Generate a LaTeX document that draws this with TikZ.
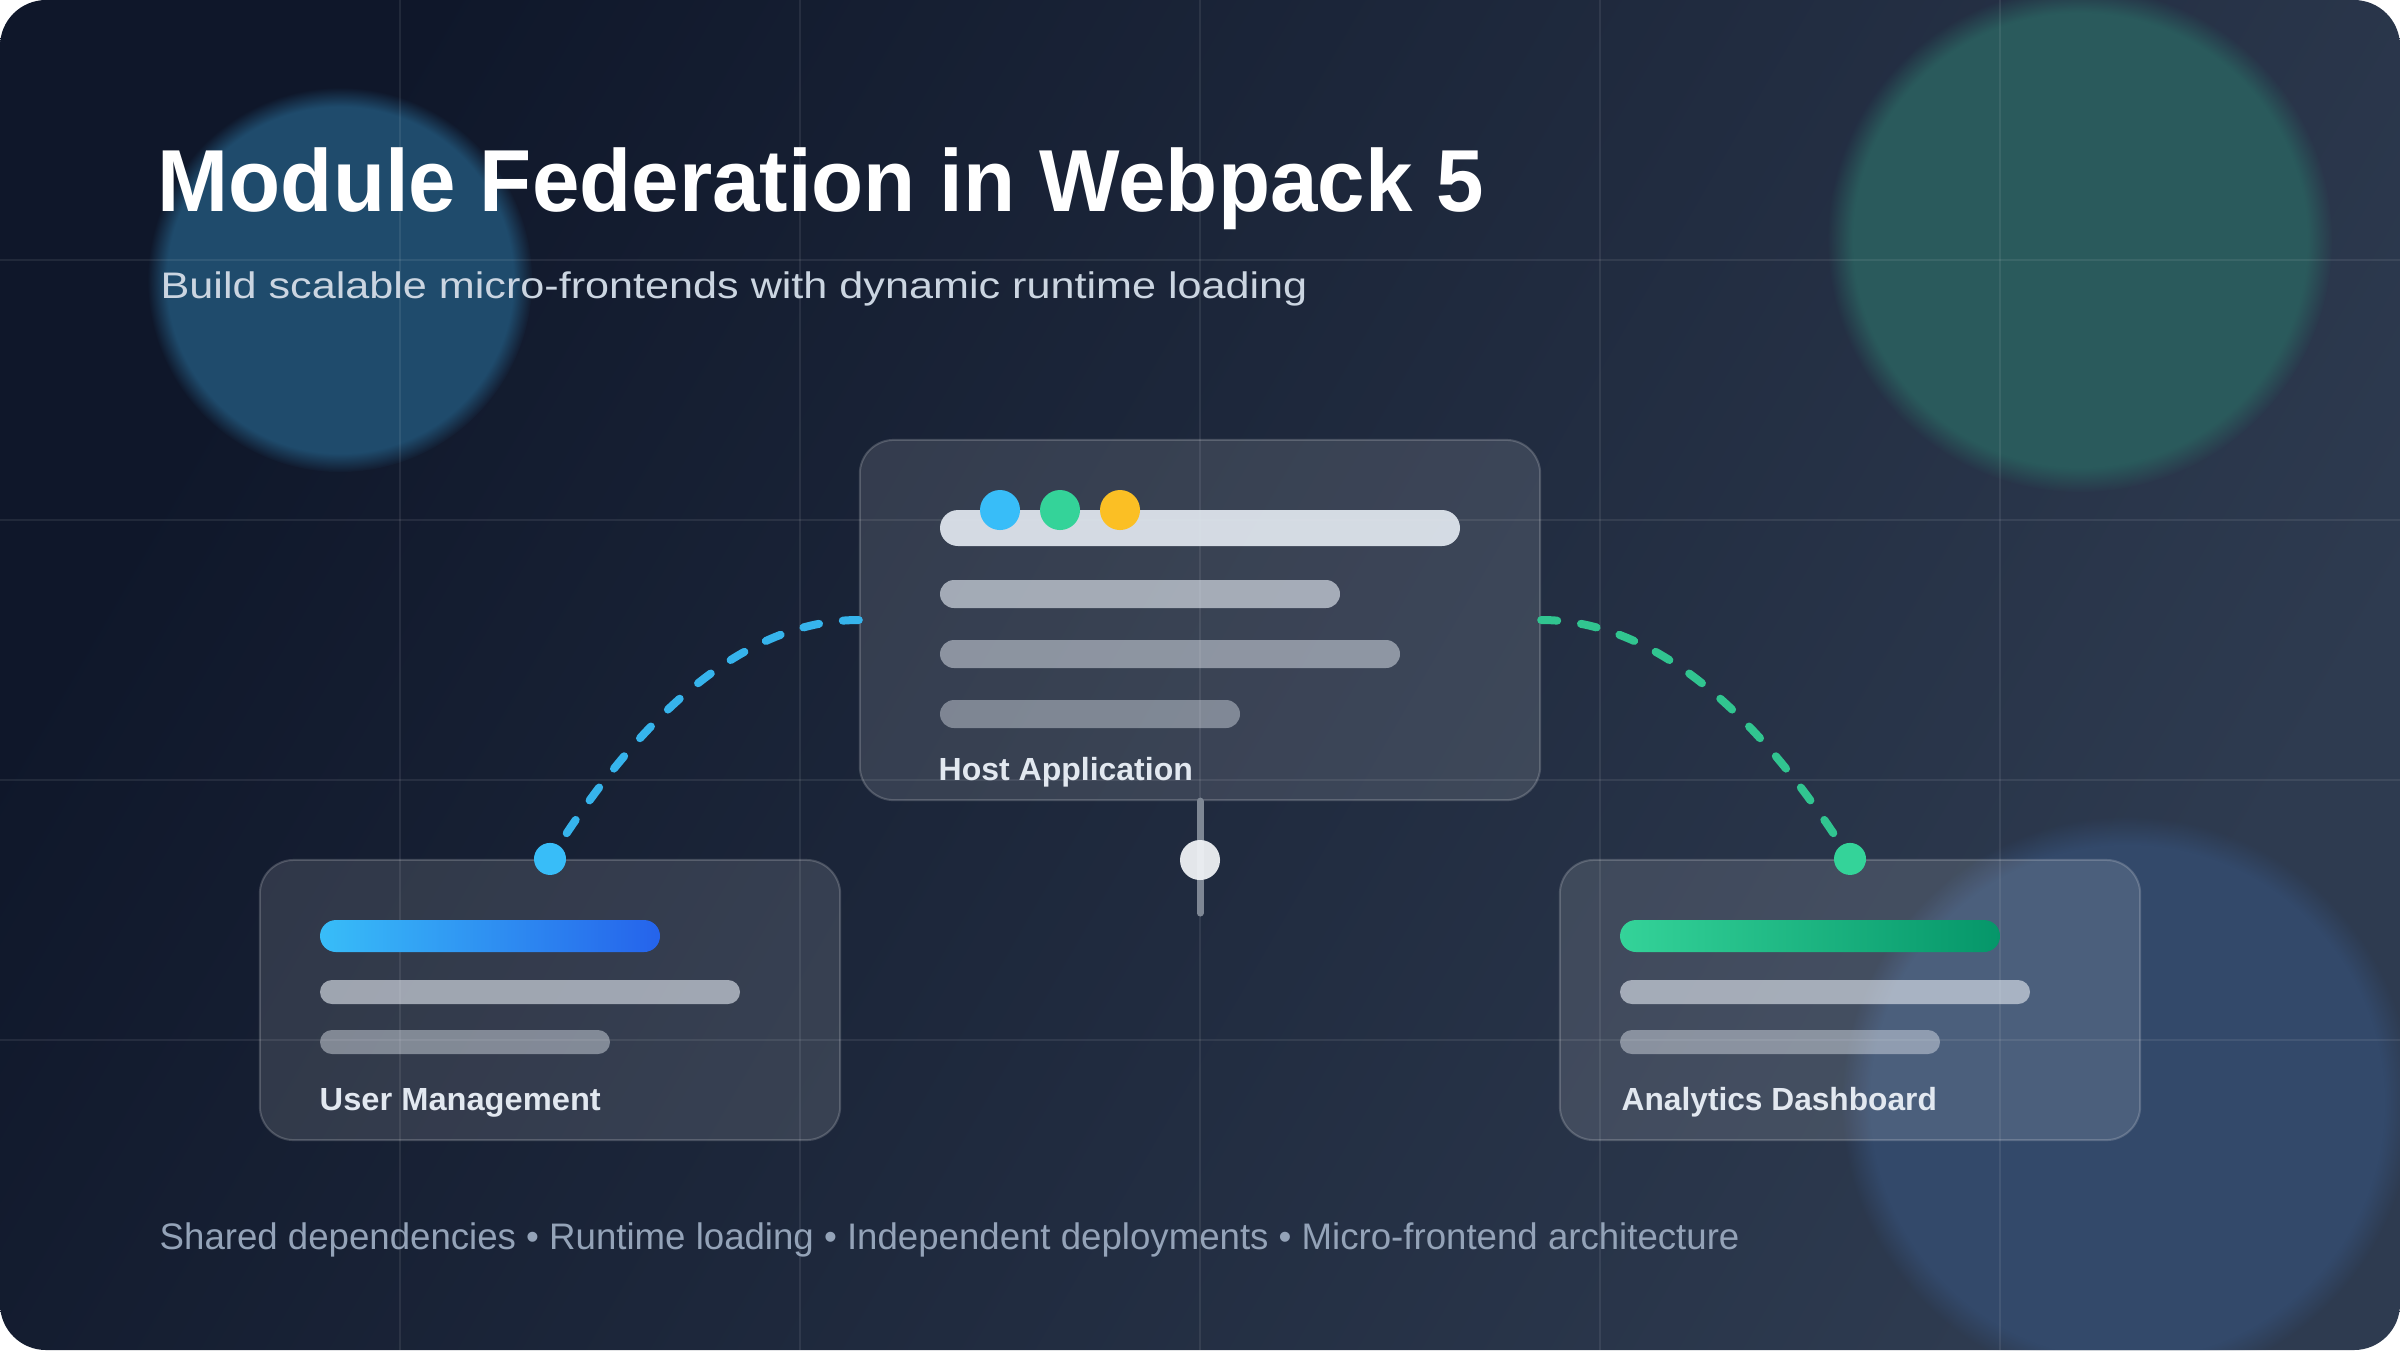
\documentclass[tikz,border=0pt]{standalone}
\usepackage{fontspec}
\setmainfont{Liberation Sans}
\usepackage{graphicx}
\usetikzlibrary{fadings}
\definecolor{bgA}{HTML}{0F172A}
\definecolor{bgB}{HTML}{2E3B50}
\definecolor{circBlue}{HTML}{1F4B6C}
\definecolor{circGreen}{HTML}{2A5A5C}
\definecolor{circSlate}{HTML}{33496A}
\definecolor{barLight}{HTML}{E2E8F0}
\definecolor{skyA}{HTML}{38BDF8}
\definecolor{skyB}{HTML}{2563EB}
\definecolor{emA}{HTML}{34D399}
\definecolor{emB}{HTML}{059669}
\definecolor{amberDot}{HTML}{FBBF24}
\definecolor{dashBlue}{HTML}{36B4EC}
\definecolor{dashGreen}{HTML}{31C590}
\definecolor{subText}{HTML}{CBD5E1}
\definecolor{footText}{HTML}{94A3B8}
\definecolor{labelText}{HTML}{E2E8F0}
\definecolor{stemGray}{HTML}{7E8794}
\definecolor{knobWhite}{HTML}{EEF1F4}
\begin{document}
\begin{tikzpicture}[x=0.01cm,y=-0.01cm,
  card/.style={draw=white, draw opacity=0.18, fill=white, fill opacity=0.12,
    line width=0.02cm, rounded corners=0.34cm, inner sep=0pt, rectangle},
  gridline/.style={draw=white, draw opacity=0.08, line width=0.02cm},
  dashconn/.style={line width=0.08cm, line cap=round, dash pattern=on 0.16cm off 0.24cm},
  dotnode/.style={circle, inner sep=0pt, minimum size=0.32cm},
  txt/.style={anchor=base west, inner sep=0pt}
]
\useasboundingbox (0,0) rectangle (2400,1350);
\fill[white] (0,0) rectangle (2400,1350);
\shade[top color=bgA, bottom color=bgB, shading angle=60, rounded corners=0.46cm] (0,0) rectangle (2400,1350);

\begin{scope}
  \clip[rounded corners=0.46cm] (0,0) rectangle (2400,1350);
  % glowing circles
  \fill[circBlue, path fading=circle with fuzzy edge 10 percent] (340,280) circle (1.92cm);
  \fill[circGreen, path fading=circle with fuzzy edge 10 percent] (2080,240) circle (2.52cm);
  \fill[circSlate, path fading=circle with fuzzy edge 10 percent] (2127,1102) circle (2.85cm);
  % grid
  \foreach \gx in {400,800,1200,1600,2000} \draw[gridline] (\gx,0) -- (\gx,1350);
  \foreach \gy in {260,520,780,1040} \draw[gridline] (0,\gy) -- (2400,\gy);
\end{scope}

% cards
\node[card, minimum width=6.8cm, minimum height=3.6cm] (host) at (1200,620) {};
\node[card, minimum width=5.8cm, minimum height=2.8cm] (user) at (550,1000) {};
\node[card, minimum width=5.8cm, minimum height=2.8cm] (analytics) at (1850,1000) {};

% host content bars
\fill[barLight, fill opacity=0.92, rounded corners=0.18cm] (940,510) rectangle (1460,546);
\fill[barLight, fill opacity=0.64, rounded corners=0.14cm] (940,580) rectangle (1340,608);
\fill[barLight, fill opacity=0.50, rounded corners=0.14cm] (940,640) rectangle (1400,668);
\fill[barLight, fill opacity=0.42, rounded corners=0.14cm] (940,700) rectangle (1240,728);
\node[dotnode, fill=skyA, minimum size=0.40cm] (dotA) at (1000,510) {};
\node[dotnode, fill=emA, minimum size=0.40cm] (dotB) at (1060,510) {};
\node[dotnode, fill=amberDot, minimum size=0.40cm] (dotC) at (1120,510) {};

% user card bars
\shade[left color=skyA, right color=skyB, rounded corners=0.16cm] (320,920) rectangle (660,952);
\fill[barLight, fill opacity=0.62, rounded corners=0.12cm] (320,980) rectangle (740,1004);
\fill[barLight, fill opacity=0.45, rounded corners=0.12cm] (320,1030) rectangle (610,1054);

% analytics card bars
\shade[left color=emA, right color=emB, rounded corners=0.16cm] (1620,920) rectangle (2000,952);
\fill[barLight, fill opacity=0.62, rounded corners=0.12cm] (1620,980) rectangle (2030,1004);
\fill[barLight, fill opacity=0.45, rounded corners=0.12cm] (1620,1030) rectangle (1940,1054);

% connection points
\coordinate (udot) at (user.north);
\coordinate (adot) at (analytics.north);
\coordinate (stemEnd) at (1200,913);

% connectors
\draw[dashconn, draw=dashBlue] (host.west) .. controls (753.3,620) and (650,700) .. (udot);
\draw[dashconn, draw=dashGreen] (host.east) .. controls (1646.7,620) and (1750,700) .. (adot);
\draw[stemGray, line width=0.07cm, line cap=round] (host.south) -- (stemEnd);
\node[dotnode, fill=skyA] (udotmark) at (udot) {};
\node[dotnode, fill=emA] (adotmark) at (adot) {};
\node[dotnode, fill=knobWhite, fill opacity=0.95, minimum size=0.40cm] (knob) at (1200,860) {};

% texts
\node[txt, text=white] (title) at (157,211)
  {\resizebox{13.25cm}{\height}{\fontsize{25.04pt}{30pt}\selectfont\bfseries Module Federation in Webpack 5}};
\node[txt, text=subText] (subtitle) at (160,298)
  {\resizebox{11.46cm}{\height}{\fontsize{10.5pt}{12pt}\selectfont Build scalable micro-frontends with dynamic runtime loading}};
\node[txt, text=labelText] (hostlabel) at (938,780)
  {\resizebox{2.54cm}{\height}{\fontsize{9.1pt}{11pt}\selectfont\bfseries Host Application}};
\node[txt, text=labelText] (userlabel) at (319,1110)
  {\resizebox{2.81cm}{\height}{\fontsize{9.1pt}{11pt}\selectfont\bfseries User Management}};
\node[txt, text=labelText] (analyticslabel) at (1621,1110)
  {\resizebox{3.15cm}{\height}{\fontsize{9.1pt}{11pt}\selectfont\bfseries Analytics Dashboard}};
\node[txt, text=footText] (footer) at (159,1249)
  {\resizebox{15.79cm}{\height}{\fontsize{10.5pt}{12pt}\selectfont Shared dependencies \textbullet{} Runtime loading \textbullet{} Independent deployments \textbullet{} Micro-frontend architecture}};
\end{tikzpicture}
\end{document}
